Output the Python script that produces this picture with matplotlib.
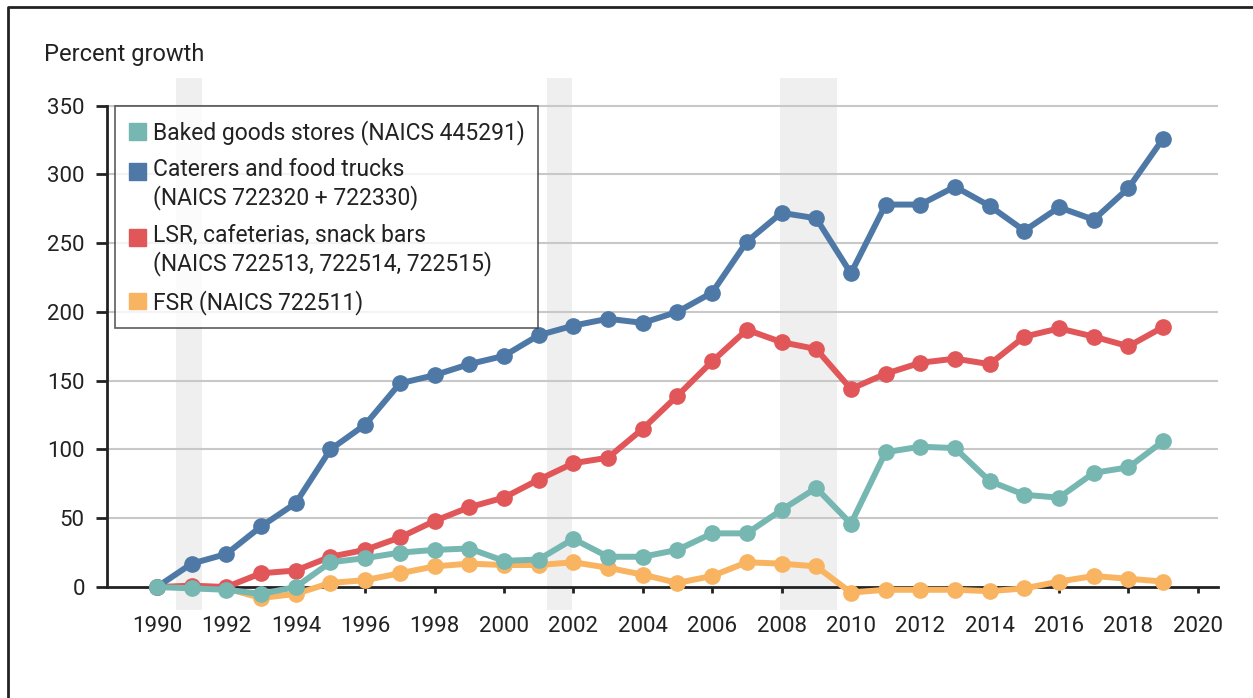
import matplotlib.pyplot as plt
import matplotlib.lines as mlines
import matplotlib.patches as mpatches
from matplotlib.legend_handler import HandlerPatch

plt.rcParams['font.family'] = ['Roboto', 'DejaVu Sans']

years = list(range(1990, 2020))

baked = [0, -1, -2, -5, 0, 18, 21, 25, 27, 28, 19, 20, 35, 22, 22, 27, 39, 39,
         56, 72, 46, 98, 102, 101, 77, 67, 65, 83, 87, 106]
caterers = [0, 17, 24, 44, 61, 100, 118, 148, 154, 162, 168, 183, 190, 195, 192,
            200, 214, 251, 272, 268, 228, 278, 278, 291, 277, 259, 276, 267, 290, 326]
lsr = [0, 1, 0, 10, 12, 22, 27, 36, 48, 58, 65, 78, 90, 94, 115, 139, 164, 187,
       178, 173, 144, 155, 163, 166, 162, 182, 188, 182, 175, 189]
fsr = [0, 0, -1, -8, -5, 3, 5, 10, 15, 17, 16, 16, 18, 14, 9, 3, 8, 18, 17, 15,
       -4, -2, -2, -2, -3, -1, 4, 8, 6, 4]

labels = ['Baked goods stores (NAICS 445291)',
          'Caterers and food trucks\n(NAICS 722320 + 722330)',
          'LSR, cafeterias, snack bars\n(NAICS 722513, 722514, 722515)',
          'FSR (NAICS 722511)']
colors = ['#76b7b2', '#4e79a7', '#e15759', '#f9b461']

recessions = [(1990.55, 1991.3), (2001.25, 2001.95), (2007.95, 2009.6)]


def square(lift):
    # put the square beside the first line of a two-line label
    def make(legend, orig_handle, xdescent, ydescent, width, height, fontsize):
        return mpatches.Rectangle((-xdescent, -ydescent + lift * fontsize),
                                  width, height)
    return make


fig = plt.figure(figsize=(12.53, 6.98), dpi=100)
ax = fig.add_axes([107 / 1253, 1 - 610 / 698, (1218 - 107) / 1253, (610 - 78) / 698])

for start, end in recessions:
    ax.axvspan(start, end, color='#efefef', lw=0, zorder=0)

for y in range(50, 351, 50):
    ax.axhline(y, color='#c8c8c8', lw=1.5, zorder=1)

# draw order: FSR lowest, baked goods on top
series = [baked, caterers, lsr, fsr]
zorders = [6, 5, 4, 3]
for vals, c, z in zip(series, colors, zorders):
    ax.plot(years, vals, color=c, lw=4.3, marker='o', ms=11, zorder=z,
            solid_joinstyle='round', solid_capstyle='round')

ax.set_xlim(1988.56, 2020.58)
ax.set_ylim(-16.7, 370)
ax.set_xticks(range(1990, 2021, 2))
ax.set_yticks(range(0, 351, 50))

for s in ['top', 'right']:
    ax.spines[s].set_visible(False)
ax.spines['left'].set_bounds(0, 350)
ax.spines['bottom'].set_position(('data', 0))
for s in ['left', 'bottom']:
    ax.spines[s].set_linewidth(2)
    ax.spines[s].set_color('#222222')
ax.spines['bottom'].set_zorder(2)

ax.tick_params(axis='y', length=8, width=2, color='#222222', labelsize=16,
               labelcolor='#222222', pad=8)
ax.tick_params(axis='x', length=4, width=2, color='#222222', labelsize=16,
               labelcolor='#222222', pad=17)

fig.text(44 / 1253, 1 - 55 / 698, 'Percent growth', fontsize=17,
         color='#222222', va='center', ha='left')

handles = [mpatches.Patch(color=c) for c in colors]
hmap = {handles[1]: HandlerPatch(patch_func=square(0.6)),
        handles[2]: HandlerPatch(patch_func=square(0.6))}
leg = fig.legend(handles, labels, loc='upper left',
                 bbox_to_anchor=(115 / 1253, 1 - 106 / 698), borderaxespad=0,
                 fontsize=16.5, frameon=True, fancybox=False, handler_map=hmap,
                 handlelength=0.75, handleheight=0.75, handletextpad=0.3,
                 labelspacing=0.6, borderpad=0.6, labelcolor='#222222')
leg.get_frame().set_edgecolor('#333333')
leg.get_frame().set_linewidth(1.2)
leg.set_zorder(10)

# outer frame (only top and left visible)
border = mlines.Line2D([8 / 1253, 8 / 1253, 1.0], [0.0, 1 - 7 / 698, 1 - 7 / 698],
                       transform=fig.transFigure, color='#222222', lw=2)
fig.add_artist(border)

fig.savefig('out.png', dpi=100)
